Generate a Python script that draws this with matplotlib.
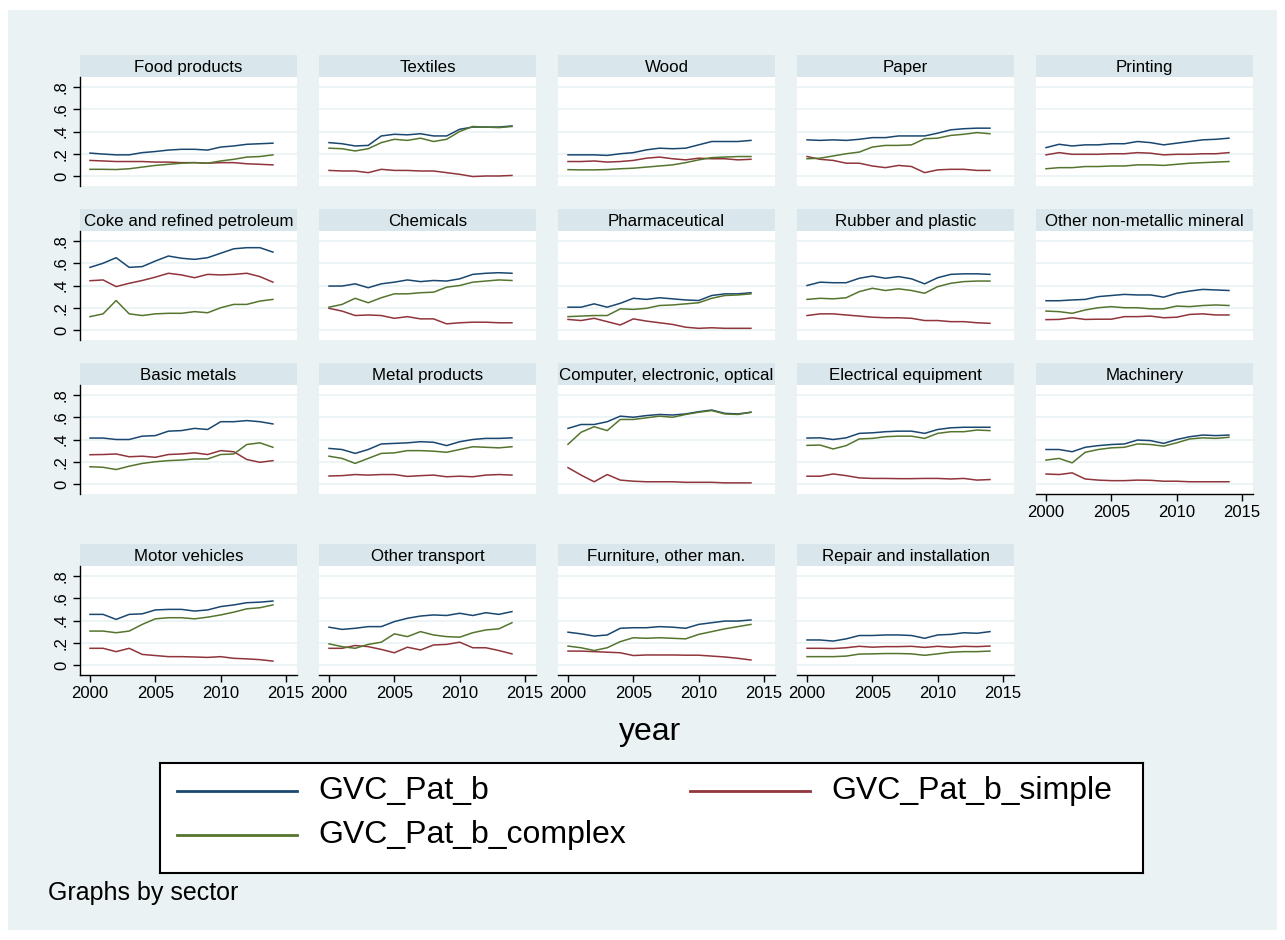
import numpy as np
import matplotlib
matplotlib.use("Agg")
import matplotlib.pyplot as plt
from matplotlib.patches import Rectangle
from matplotlib.lines import Line2D

plt.rcParams['font.family'] = ['Liberation Sans', 'DejaVu Sans']

years = list(range(2000, 2015))

sectors = [
    "Food products", "Textiles", "Wood", "Paper", "Printing",
    "Coke and refined petroleum", "Chemicals", "Pharmaceutical",
    "Rubber and plastic", "Other non-metallic mineral",
    "Basic metals", "Metal products", "Computer, electronic, optical",
    "Electrical equipment", "Machinery",
    "Motor vehicles", "Other transport", "Furniture, other man.",
    "Repair and installation",
]

# GVC participation (total)
gvc_b = [
    [.206, .197, .19, .19, .21, .22, .233, .24, .24, .233, .26, .27, .285, .29, .295],
    [.30, .29, .27, .275, .36, .375, .37, .38, .36, .36, .42, .44, .44, .44, .45],
    [.19, .19, .19, .185, .20, .21, .235, .25, .245, .25, .28, .31, .31, .31, .32],
    [.325, .32, .325, .32, .33, .345, .345, .36, .36, .36, .385, .415, .425, .43, .43],
    [.255, .285, .27, .28, .28, .29, .29, .31, .30, .28, .295, .31, .325, .33, .34],
    [.563, .60, .65, .563, .57, .62, .665, .645, .635, .65, .69, .73, .74, .74, .70],
    [.395, .395, .415, .38, .415, .43, .45, .435, .445, .44, .46, .50, .51, .515, .51],
    [.205, .205, .235, .205, .24, .285, .275, .29, .28, .27, .265, .31, .325, .325, .335],
    [.40, .43, .425, .425, .465, .485, .465, .48, .46, .415, .47, .50, .505, .505, .50],
    [.263, .263, .27, .275, .30, .31, .32, .315, .315, .295, .33, .35, .365, .36, .355],
    [.413, .413, .40, .40, .43, .435, .475, .48, .50, .49, .56, .56, .57, .56, .54],
    [.32, .31, .275, .31, .36, .365, .37, .38, .375, .345, .38, .40, .41, .41, .415],
    [.50, .535, .535, .56, .61, .60, .615, .625, .62, .63, .65, .665, .635, .63, .645],
    [.413, .415, .40, .415, .455, .46, .47, .475, .475, .455, .49, .505, .51, .51, .51],
    [.31, .31, .29, .33, .345, .355, .36, .395, .39, .365, .40, .425, .44, .435, .44],
    [.455, .455, .41, .455, .46, .495, .50, .50, .485, .495, .525, .54, .56, .565, .575],
    [.34, .32, .33, .345, .345, .39, .42, .44, .45, .445, .465, .445, .47, .455, .48],
    [.295, .28, .26, .27, .33, .335, .335, .345, .34, .33, .365, .38, .395, .395, .405],
    [.225, .225, .215, .235, .265, .265, .27, .27, .265, .24, .27, .275, .29, .285, .30],
]

# simple GVC participation
gvc_simple = [
    [.14, .135, .13, .13, .13, .125, .125, .12, .12, .115, .12, .12, .11, .105, .10],
    [.05, .045, .045, .03, .06, .05, .05, .045, .045, .03, .015, -.005, 0, 0, .005],
    [.13, .13, .135, .125, .13, .14, .16, .17, .155, .145, .16, .155, .155, .145, .15],
    [.175, .15, .14, .115, .115, .09, .075, .095, .085, .03, .055, .06, .06, .05, .05],
    [.19, .21, .195, .195, .195, .20, .20, .21, .205, .19, .195, .195, .20, .20, .21],
    [.443, .45, .39, .42, .445, .475, .51, .495, .47, .50, .495, .50, .51, .48, .43],
    [.195, .17, .13, .135, .13, .105, .12, .10, .10, .055, .065, .07, .07, .065, .065],
    [.095, .085, .105, .075, .045, .10, .08, .065, .05, .025, .015, .02, .015, .015, .015],
    [.13, .145, .145, .135, .125, .115, .11, .11, .105, .085, .085, .075, .075, .065, .06],
    [.093, .095, .11, .095, .097, .097, .12, .12, .125, .11, .115, .14, .145, .135, .135],
    [.263, .265, .27, .245, .25, .24, .265, .27, .28, .265, .30, .29, .22, .195, .21],
    [.072, .075, .085, .08, .085, .085, .068, .075, .08, .065, .07, .065, .08, .085, .08],
    [.147, .08, .02, .085, .035, .025, .02, .02, .02, .015, .015, .015, .01, .01, .01],
    [.07, .07, .09, .075, .055, .05, .05, .048, .048, .05, .05, .045, .05, .035, .04],
    [.09, .085, .10, .045, .035, .03, .03, .035, .033, .025, .025, .02, .02, .02, .02],
    [.15, .15, .12, .15, .095, .085, .075, .075, .072, .068, .075, .06, .055, .048, .035],
    [.15, .15, .175, .165, .14, .11, .16, .135, .18, .185, .205, .155, .155, .13, .10],
    [.125, .125, .12, .115, .11, .085, .09, .09, .09, .088, .088, .08, .072, .06, .045],
    [.15, .15, .148, .155, .168, .16, .165, .165, .168, .158, .168, .16, .168, .165, .17],
]

# complex GVC participation
gvc_complex = [
    [.06, .06, .058, .065, .08, .095, .105, .115, .12, .115, .135, .15, .17, .175, .19],
    [.25, .245, .225, .245, .30, .33, .32, .34, .31, .33, .40, .445, .44, .435, .445],
    [.057, .055, .055, .058, .065, .07, .08, .09, .10, .12, .145, .165, .17, .175, .175],
    [.155, .16, .18, .20, .215, .26, .275, .275, .28, .335, .34, .365, .375, .39, .38],
    [.065, .075, .075, .085, .085, .09, .09, .10, .10, .095, .105, .115, .12, .125, .13],
    [.12, .145, .265, .145, .13, .145, .15, .15, .165, .155, .20, .23, .23, .26, .275],
    [.205, .23, .285, .245, .29, .325, .325, .335, .34, .385, .40, .43, .44, .45, .445],
    [.12, .125, .13, .13, .19, .185, .195, .22, .225, .235, .245, .285, .31, .315, .325],
    [.275, .285, .28, .29, .345, .375, .355, .37, .355, .33, .39, .42, .435, .44, .44],
    [.17, .165, .15, .18, .20, .21, .20, .20, .19, .19, .215, .21, .22, .225, .22],
    [.155, .15, .13, .16, .185, .20, .21, .215, .225, .225, .265, .27, .355, .37, .33],
    [.25, .23, .185, .23, .275, .28, .30, .30, .295, .285, .31, .335, .33, .325, .335],
    [.357, .465, .515, .48, .58, .58, .595, .61, .60, .625, .645, .66, .63, .625, .645],
    [.347, .35, .315, .345, .405, .41, .425, .43, .43, .41, .455, .47, .47, .485, .48],
    [.215, .23, .19, .285, .31, .325, .33, .36, .355, .34, .37, .405, .415, .41, .42],
    [.305, .305, .29, .305, .365, .415, .425, .425, .415, .43, .45, .475, .505, .515, .54],
    [.19, .165, .15, .185, .205, .28, .255, .30, .27, .255, .25, .29, .315, .325, .38],
    [.17, .155, .13, .155, .21, .245, .24, .245, .24, .235, .275, .30, .325, .345, .365],
    [.075, .075, .075, .08, .098, .10, .103, .103, .10, .087, .10, .115, .12, .12, .125],
]

series_names = ["GVC_Pat_b", "GVC_Pat_b_simple", "GVC_Pat_b_complex"]
series_colors = ["#1A476F", "#90353B", "#55752F"]
yticks = [0, .2, .4, .6, .8]
ytick_labels = ["0", ".2", ".4", ".6", ".8"]
xticks = [2000, 2005, 2010, 2015]

W, H = 1285, 940
bg = "#EAF2F3"
strip_c = "#D9E6EB"

fig = plt.figure(figsize=(W / 100, H / 100), dpi=100, facecolor="white")
fig.patches.append(Rectangle((8 / W, 10 / H), 1 - 16 / W, 1 - 20 / H,
                             transform=fig.transFigure, facecolor=bg,
                             edgecolor="none", zorder=-10))


def fbox(x, y, w, h):
    # pixel box (top-left origin) -> figure fraction rect
    return [x / W, 1 - (y + h) / H, w / W, h / H]


col_left = [80, 319, 558, 797, 1036]
strip_top = [55, 209, 363, 544]
panel_w = 217
strip_h = 22
plot_h = 109

for i, name in enumerate(sectors):
    r, c = divmod(i, 5)
    x0 = col_left[c]
    st = strip_top[r]
    sax = fig.add_axes(fbox(x0, st, panel_w, strip_h))
    sax.set_facecolor(strip_c)
    sax.set_xticks([])
    sax.set_yticks([])
    for s in sax.spines.values():
        s.set_visible(False)
    sax.text(0.5, 0.45, name, ha="center", va="center", fontsize=12.2,
             transform=sax.transAxes)

    ax = fig.add_axes(fbox(x0, st + strip_h, panel_w, plot_h))
    ax.set_facecolor("white")
    ax.set_xlim(1999.235, 2015.84)
    ax.set_ylim(-0.09, 0.89)
    for yv in yticks:
        ax.axhline(yv, color=bg, lw=1.2, zorder=0)
    for vals, col in zip([gvc_b[i], gvc_simple[i], gvc_complex[i]], series_colors):
        ax.plot(years, vals, color=col, lw=1.1)
    for s in ["top", "right"]:
        ax.spines[s].set_visible(False)

    ax.set_yticks(yticks)
    if c == 0:
        ax.spines["left"].set_color("black")
        ax.spines["left"].set_linewidth(1.0)
        ax.set_yticklabels(ytick_labels, rotation=90, va="center", fontsize=12)
        ax.tick_params(axis="y", length=5, width=1.0, pad=3)
    else:
        ax.spines["left"].set_visible(False)
        ax.tick_params(axis="y", length=0, labelleft=False)

    has_x = (r == 3) or (i == 14)
    ax.set_xticks(xticks)
    if has_x:
        ax.spines["bottom"].set_color("black")
        ax.spines["bottom"].set_linewidth(1.0)
        ax.tick_params(axis="x", length=5, width=1.0, labelsize=12, pad=3)
    else:
        ax.spines["bottom"].set_visible(False)
        ax.tick_params(axis="x", length=0, labelbottom=False)

fig.text(650 / W, 1 - 732 / H, "year", ha="center", va="center", fontsize=23)

# legend box
lax = fig.add_axes(fbox(160, 763, 983, 110))
lax.set_xlim(0, 983)
lax.set_ylim(110, 0)
lax.set_xticks([])
lax.set_yticks([])
lax.set_facecolor("white")
for s in lax.spines.values():
    s.set_linewidth(1.5)
    s.set_color("black")
legend_pos = [(17, 28), (530, 28), (17, 72)]
for (lx, ly), nm, col in zip(legend_pos, series_names, series_colors):
    lax.add_line(Line2D([lx, lx + 120], [ly, ly], color=col, lw=2))
    lax.text(lx + 141, ly, nm, ha="left", va="center", fontsize=23)

fig.text(48 / W, 1 - 893 / H, "Graphs by sector", ha="left", va="center",
         fontsize=18)

fig.savefig("out.png", dpi=100, facecolor="white")
